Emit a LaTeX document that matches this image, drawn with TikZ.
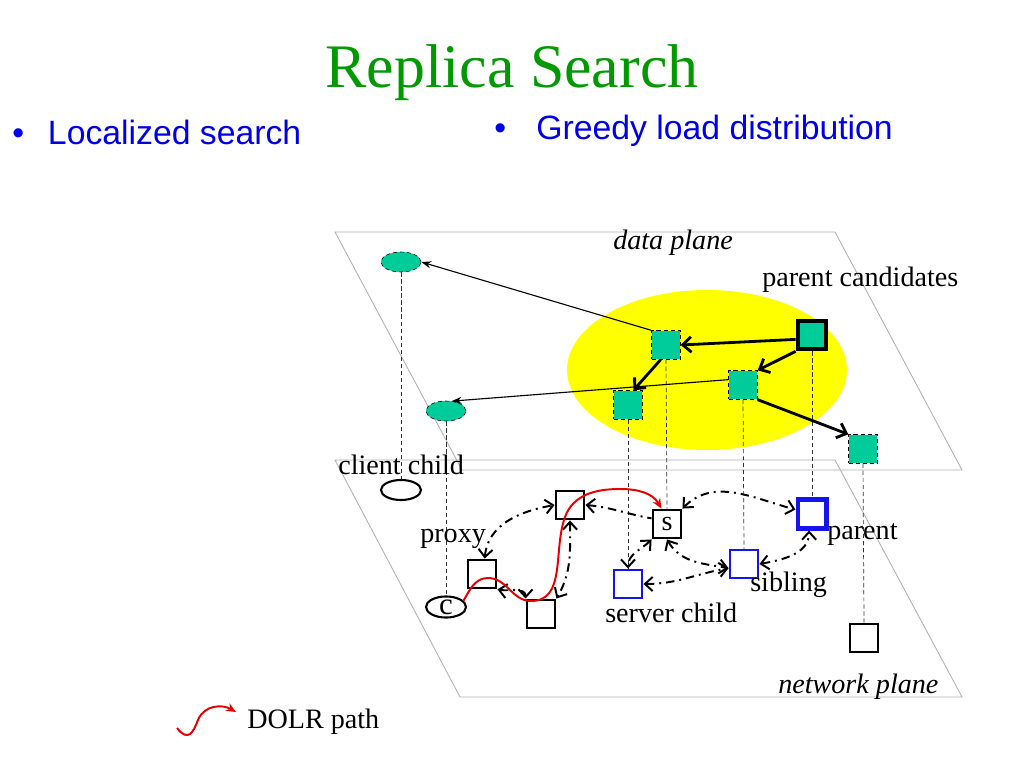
\documentclass[tikz,border=0pt]{standalone}
\usepackage{fontspec}
\setmainfont{Liberation Serif}
\newfontfamily\arialfont{Liberation Sans}
\usetikzlibrary{arrows.meta,shapes.geometric,calc}
\definecolor{rsgreen}{RGB}{0,153,0}
\definecolor{rsblue}{RGB}{0,0,230}
\definecolor{rsteal}{RGB}{0,204,153}
\definecolor{rsyellow}{RGB}{255,255,0}
\definecolor{rsplane}{RGB}{175,175,175}
\definecolor{rssq}{RGB}{20,20,235}
\definecolor{rsred}{RGB}{230,0,0}
\tikzset{
  lbl/.style={font=\fontsize{20}{24}\selectfont, anchor=base west, inner sep=0pt},
  datasq/.style={draw, densely dashed, fill=rsteal, minimum size=0.72cm, inner sep=0pt},
  datael/.style={ellipse, draw, densely dashed, fill=rsteal, minimum width=1cm, minimum height=0.5cm, inner sep=0pt},
  netsq/.style={draw, line width=1.5pt, fill=white, minimum size=0.72cm, inner sep=0pt, font=\fontsize{20}{24}\selectfont},
  netel/.style={ellipse, draw, line width=1.5pt, minimum width=1cm, minimum height=0.5cm, inner sep=0pt, font=\fontsize{22}{24}\selectfont},
  plane/.style={draw=rsplane, line width=0.6pt},
  vline/.style={densely dashed, line width=0.5pt, black!80},
  fatarr/.style={line width=2pt, -{Straight Barb[length=6pt,width=11pt]}},
  thinarr/.style={line width=0.8pt, -{Stealth[length=7pt,width=5pt]}},
  dd/.style={line width=1.4pt, dash pattern=on 6pt off 3.5pt on 1.4pt off 3.5pt, <->},
  dolr/.style={rsred, line width=1.4pt, -{Stealth[length=7pt,width=6pt]}}
}

\begin{document}
\begin{tikzpicture}[x=0.025cm, y=-0.025cm, >={Straight Barb[length=5.5pt,width=10pt,line width=1.4pt]}]
  \useasboundingbox (0,0) rectangle (1024,768);

  % Title and bullets
  \node[font=\fontsize{44}{50}\selectfont, text=rsgreen, anchor=base, inner sep=0pt] (title) at (512,88) {Replica Search};
  \node[font=\arialfont\fontsize{24}{28}\selectfont, text=rsblue, anchor=base west, inner sep=0pt] (bloc) at (12,145) {\textbullet\hspace{17pt}Localized search};
  \node[font=\arialfont\fontsize{24}{28}\selectfont, text=rsblue, anchor=base west, inner sep=0pt] (bgreedy) at (494,140) {\textbullet\hspace{21.5pt}Greedy load distribution};

  % Planes
  \draw[plane] (335,232) -- (835,232) -- (962,470) -- (462,470) -- cycle;
  \draw[plane] (335,460) -- (835,460) -- (962,697) -- (460,697) -- cycle;
  \fill[rsyellow] (707,370) ellipse [x radius=140, y radius=80];

  % Data plane
  \node[datael] (e1) at (401,262) {};
  \node[datael] (e2) at (446,411) {};
  \node[datasq] (d1) at (666,345) {};
  \node[datasq, solid, line width=2.8pt] (dbig) at (812,335) {};
  \node[datasq] (d3) at (743,385) {};
  \node[datasq] (d4) at (628,405) {};
  \node[datasq] (d5) at (863,449) {};

  % Network plane
  \node[netel] (ncc) at (401,490) {};
  \node[netel] (ncl) at (446,607) {c};
  \node[netsq] (nprx) at (482,574) {};
  \node[netsq] (na) at (570,505) {};
  \node[netsq] (nb) at (541,614) {};
  \node[netsq] (ns) at (667,524) {s};
  \node[netsq, draw=rssq] (nsc) at (628,584) {};
  \node[netsq, draw=rssq] (nsib) at (744,564) {};
  \node[netsq, draw=rssq, line width=3pt] (npar) at (812,514) {};
  \node[netsq] (nbr) at (864,638) {};

  % Projections
  \draw[vline] (e1.south) -- (ncc.north);
  \draw[vline] (e2.south) -- (ncl.north);
  \draw[vline] (d4.south) -- (nsc.north);
  \draw[vline] (d1.south) -- (ns.north);
  \draw[vline] (d3.south) -- (nsib.north);
  \draw[vline] (dbig.south) -- (npar.north);
  \draw[vline] (d5.south) -- (nbr.north);

  % Data plane arrows
  \draw[thinarr] (d1.north west) -- (e1.east);
  \draw[thinarr] (d3.160) -- (e2.60);
  \draw[fatarr] (dbig.195) -- (d1.east);
  \draw[fatarr] (dbig.south west) -- (d3.north east);
  \draw[fatarr] (d1.250) -- (d4.70);
  \draw[fatarr] (d3.south east) -- (d5.north west);

  % Overlay links
  \draw[dd] (nprx.80) to[out=85,in=190] (na.west);
  \draw[dd] (nprx.south east) to[out=-10,in=90] (nb.north west);
  \draw[dd] (na.south) to[out=-90,in=60] (nb.north east);
  \draw[dd, <-] (na.east) to[out=-5,in=170] (ns.160);
  \draw[dd] (ns.south west) to[out=225,in=90] (nsc.north);
  \draw[dd] (ns.south) to[out=-60,in=170] (nsib.195);
  \draw[dd] (ns.north east) to[out=45,in=165] (npar.165);
  \draw[dd] (nsc.east) to[out=0,in=190] (nsib.195);
  \draw[dd] (nsib.east) to[out=10,in=-90] (npar.-100);

  % DOLR path
  \draw[dolr] (ncl.20) to[out=60,in=180] (488,578) to[out=0,in=180] (531,601)
    to[out=0,in=-110] (565,517) to[out=70,in=180] (620,489) to[out=0,in=120] (ns.110);

  % Labels
  \node[lbl] (lcc) at (338,474) {client child};
  \node[lbl] (lprx) at (420,542) {proxy};
  \node[lbl] (lsc) at (605,622) {server child};
  \node[lbl] (lsib) at (750,591) {sibling};
  \node[lbl] (lpar) at (827,539) {parent};
  \node[lbl, font=\fontsize{20}{24}\selectfont\itshape] (ldata) at (613,249) {data plane};
  \node[lbl] (lcand) at (762,286) {parent candidates};
  \node[lbl, font=\fontsize{20}{24}\selectfont\itshape] (lnet) at (778,693) {network plane};

  % Legend
  \coordinate (legs) at (177,728);
  \coordinate (lege) at (236,712);
  \draw[dolr] (legs) .. controls (188,742) and (193,733) .. (198,720) .. controls (204,705) and (222,704) .. (lege);
  \node[lbl] (lleg) at (247,728) {DOLR path};
\end{tikzpicture}
\end{document}
